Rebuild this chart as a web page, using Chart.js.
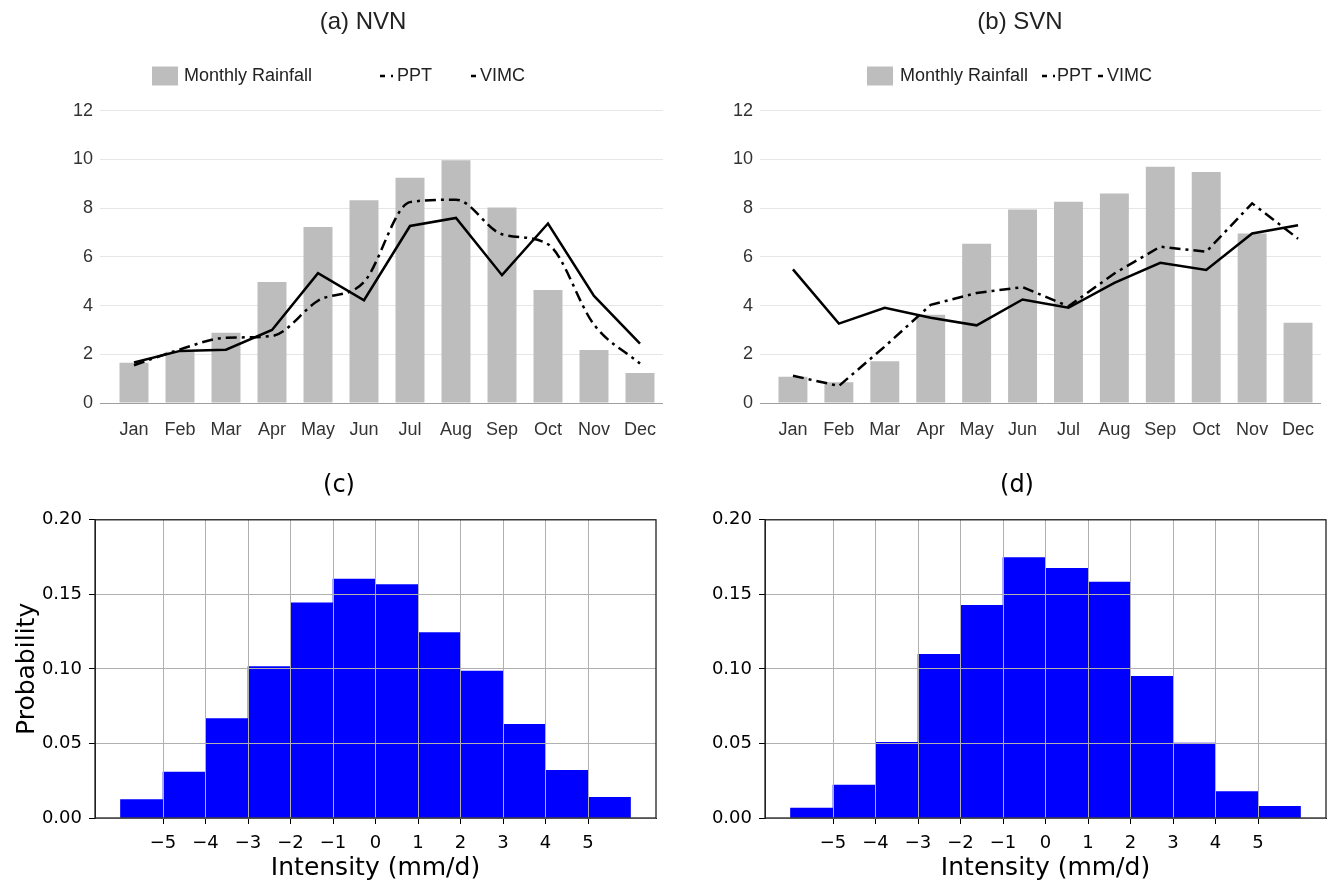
<!DOCTYPE html>
<html>
<head>
<meta charset="utf-8">
<title>Monthly rainfall and intensity</title>
<script src="https://cdn.jsdelivr.net/npm/chart.js@4.4.1/dist/chart.umd.min.js"></script>
<style>
    body { margin: 0; background: #fff; }
    #Lienzo { position: relative; width: 1330px; height: 883px; overflow: hidden; background: #fff; }
    #Lienzo canvas { position: absolute; }
</style>
</head>
<body>
<div id="Lienzo">
    <canvas id="ChartNVN" width="726" height="440" style="left:0;top:0"></canvas>
    <canvas id="ChartSVN" width="665" height="440" style="left:665px;top:0"></canvas>
    <canvas id="ChartHistNVN" width="665" height="443" style="left:0;top:440px"></canvas>
    <canvas id="ChartHistSVN" width="665" height="443" style="left:665px;top:440px"></canvas>
</div>
<script>
// datos
const months = ['Jan', 'Feb', 'Mar', 'Apr', 'May', 'Jun', 'Jul', 'Aug', 'Sep', 'Oct', 'Nov', 'Dec'];

const nvnRain = [1.65, 2.1, 2.88, 4.97, 7.23, 8.33, 9.25, 9.97, 8.03, 4.64, 2.18, 1.23];
const nvnPPT = [1.55, 2.2, 2.68, 2.75, 4.2, 4.97, 8.25, 8.35, 6.93, 6.52, 3.22, 1.62];
const nvnVIMC = [1.66, 2.14, 2.19, 3.0, 5.33, 4.22, 7.27, 7.6, 5.25, 7.37, 4.4, 2.44];

const svnRain = [1.08, 0.85, 1.71, 3.62, 6.54, 7.95, 8.26, 8.6, 9.7, 9.49, 6.96, 3.3];
const svnPPT = [1.12, 0.7, 2.32, 4.03, 4.52, 4.76, 3.97, 5.32, 6.42, 6.21, 8.2, 6.75];
const svnVIMC = [5.49, 3.26, 3.91, 3.5, 3.19, 4.25, 3.91, 4.93, 5.76, 5.46, 6.96, 7.3];

const histCenters = [-5.5, -4.5, -3.5, -2.5, -1.5, -0.5, 0.5, 1.5, 2.5, 3.5, 4.5, 5.5];
const histTicks = [-5, -4, -3, -2, -1, 0, 1, 2, 3, 4, 5];
const probNVN = [0.0123, 0.0308, 0.0667, 0.1015, 0.1443, 0.1603, 0.1565, 0.1244, 0.0986, 0.0629, 0.0319, 0.0138];
const probSVN = [0.0067, 0.0221, 0.0508, 0.1097, 0.1427, 0.1746, 0.1674, 0.1583, 0.095, 0.0502, 0.0178, 0.0078];

const fuenteHoja = '"Liberation Sans", Arial, sans-serif';
const fuenteMpl = '"DejaVu Sans", sans-serif';

// leyenda en una fila, como la de la hoja de calculo
const LeyendaFila = {
    id: 'leyendaFila',
    afterDraw: (chart, args, opts) => {
        const ctx = chart.ctx;
        ctx.save();
        ctx.font = '18px ' + fuenteHoja;
        ctx.textBaseline = 'middle';
        chart.data.datasets.forEach((ds, i) => {
            const it = opts.items[i];
            if (ds.type === 'line') {
                ctx.beginPath();
                ctx.strokeStyle = ds.borderColor;
                ctx.lineWidth = ds.borderWidth;
                ctx.setLineDash(it.dash || []);
                ctx.moveTo(it.x, opts.y);
                ctx.lineTo(it.x + it.w, opts.y);
                ctx.stroke();
                ctx.setLineDash([]);
            } else {
                ctx.fillStyle = ds.backgroundColor;
                ctx.fillRect(it.x, opts.y - 9.5, 26, 19);
            }
            ctx.fillStyle = '#222';
            ctx.fillText(ds.label, it.textX, opts.y);
        });
        ctx.restore();
    }
};

// marco completo estilo matplotlib
const Marco = {
    id: 'marco',
    afterDraw: (chart) => {
        const a = chart.chartArea;
        const ctx = chart.ctx;
        ctx.save();
        ctx.strokeStyle = '#222';
        ctx.lineWidth = 1.3;
        ctx.strokeRect(a.left, a.top, a.right - a.left, a.bottom - a.top);
        ctx.restore();
    }
};

const InitGrafMensual = (id, titulo, lluvia, ppt, vimc, cfg) => {
    return new Chart(document.getElementById(id), {
        type: 'bar',
        data: {
            labels: months,
            datasets: [{
                label: 'Monthly Rainfall',
                data: lluvia,
                backgroundColor: '#bdbdbd',
                barPercentage: 0.63,
                categoryPercentage: 1,
                order: 2
            }, {
                type: 'line',
                label: 'PPT',
                data: ppt,
                borderColor: '#000',
                borderWidth: 2.5,
                borderDash: [11, 5, 3, 5],
                pointRadius: 0,
                cubicInterpolationMode: cfg.suave ? 'monotone' : 'default',
                order: 1
            }, {
                type: 'line',
                label: 'VIMC',
                data: vimc,
                borderColor: '#000',
                borderWidth: 2.5,
                pointRadius: 0,
                order: 0
            }]
        },
        options: {
            responsive: false,
            animation: false,
            layout: { padding: { left: cfg.padL, right: cfg.padR, top: 0, bottom: 0 } },
            plugins: {
                legend: { display: false },
                tooltip: { enabled: false },
                title: {
                    display: true,
                    text: titulo,
                    color: '#222',
                    font: { family: fuenteHoja, size: 24, weight: 'normal' },
                    padding: { top: 8, bottom: 74 }
                },
                leyendaFila: { y: 76, items: cfg.items }
            },
            scales: {
                x: {
                    grid: { display: false },
                    border: { display: false },
                    ticks: { color: '#333', font: { family: fuenteHoja, size: 18 }, padding: 8, maxRotation: 0, autoSkip: false },
                    afterFit: (a) => { a.height = 37; }
                },
                y: {
                    min: 0,
                    max: 12,
                    border: { display: false },
                    grid: {
                        color: (c) => c.tick.value === 0 ? '#a0a0a0' : '#e6e6e6',
                        tickLength: cfg.tickLen
                    },
                    ticks: { stepSize: 2, color: '#333', font: { family: fuenteHoja, size: 18 }, padding: 7 },
                    afterFit: (a) => { a.width = cfg.ancho; }
                }
            }
        },
        plugins: [LeyendaFila]
    });
};

const InitGrafHist = (id, titulo, prob, cfg) => {
    return new Chart(document.getElementById(id), {
        type: 'bar',
        data: {
            datasets: [{
                label: 'Probability',
                data: histCenters.map((x, i) => ({ x: x, y: prob[i] })),
                backgroundColor: '#0000ff',
                borderWidth: 0,
                barPercentage: 1,
                categoryPercentage: 1
            }]
        },
        options: {
            responsive: false,
            animation: false,
            layout: { padding: { left: cfg.padL, right: cfg.padR, top: 0, bottom: 0 } },
            plugins: {
                legend: { display: false },
                tooltip: { enabled: false },
                title: {
                    display: true,
                    text: titulo,
                    color: '#000',
                    font: { family: fuenteMpl, size: 24, weight: 'normal' },
                    padding: { top: 31, bottom: 20 }
                }
            },
            scales: {
                x: {
                    type: 'linear',
                    min: -6.6,
                    max: 6.6,
                    offset: false,
                    grid: { offset: false, z: 1, color: '#b0b0b0', tickColor: '#000', tickLength: 6 },
                    border: { color: '#222', z: 1 },
                    afterBuildTicks: (a) => { a.ticks = histTicks.map(v => ({ value: v })); },
                    ticks: {
                        color: '#000',
                        font: { family: fuenteMpl, size: 18 },
                        padding: 9,
                        maxRotation: 0,
                        autoSkip: false,
                        callback: (v) => v < 0 ? '\u2212' + Math.abs(v) : String(v)
                    },
                    title: {
                        display: true,
                        text: 'Intensity (mm/d)',
                        color: '#000',
                        font: { family: fuenteMpl, size: 25 },
                        padding: { top: 0, bottom: 0 }
                    },
                    afterFit: (a) => { a.height = 65; }
                },
                y: {
                    min: 0,
                    max: 0.2,
                    grid: { z: 1, color: '#b0b0b0', tickColor: '#000', tickLength: 6 },
                    border: { color: '#222', z: 1 },
                    ticks: {
                        stepSize: 0.05,
                        color: '#000',
                        font: { family: fuenteMpl, size: 18 },
                        padding: 7,
                        callback: (v) => Number(v).toFixed(2)
                    },
                    title: {
                        display: cfg.conTituloY,
                        text: 'Probability',
                        color: '#000',
                        font: { family: fuenteMpl, size: 25 },
                        padding: { top: -10, bottom: 0 }
                    },
                    afterFit: (a) => { a.width = cfg.ancho; }
                }
            }
        },
        plugins: [Marco]
    });
};

const Init = () => {
    InitGrafMensual('ChartNVN', '(a) NVN', nvnRain, nvnPPT, nvnVIMC, {
        padL: 63, padR: 63, ancho: 48, tickLen: 11, suave: true,
        items: [{ x: 152, textX: 184 }, { x: 380, w: 13, dash: [5, 6, 2, 30], textX: 397 }, { x: 471, w: 5, textX: 480 }]
    });
    InitGrafMensual('ChartSVN', '(b) SVN', svnRain, svnPPT, svnVIMC, {
        padL: 54, padR: 9, ancho: 51, tickLen: 10, suave: false,
        items: [{ x: 202, textX: 235 }, { x: 377, w: 13, dash: [5, 6, 2, 30], textX: 392 }, { x: 433, w: 5, textX: 442 }]
    });
    InitGrafHist('ChartHistNVN', '(c)', probNVN, { padL: 22, padR: 9, ancho: 73, conTituloY: true });
    InitGrafHist('ChartHistSVN', '(d)', probSVN, { padL: 43, padR: 4, ancho: 57, conTituloY: false });
};

Init();
</script>
</body>
</html>
